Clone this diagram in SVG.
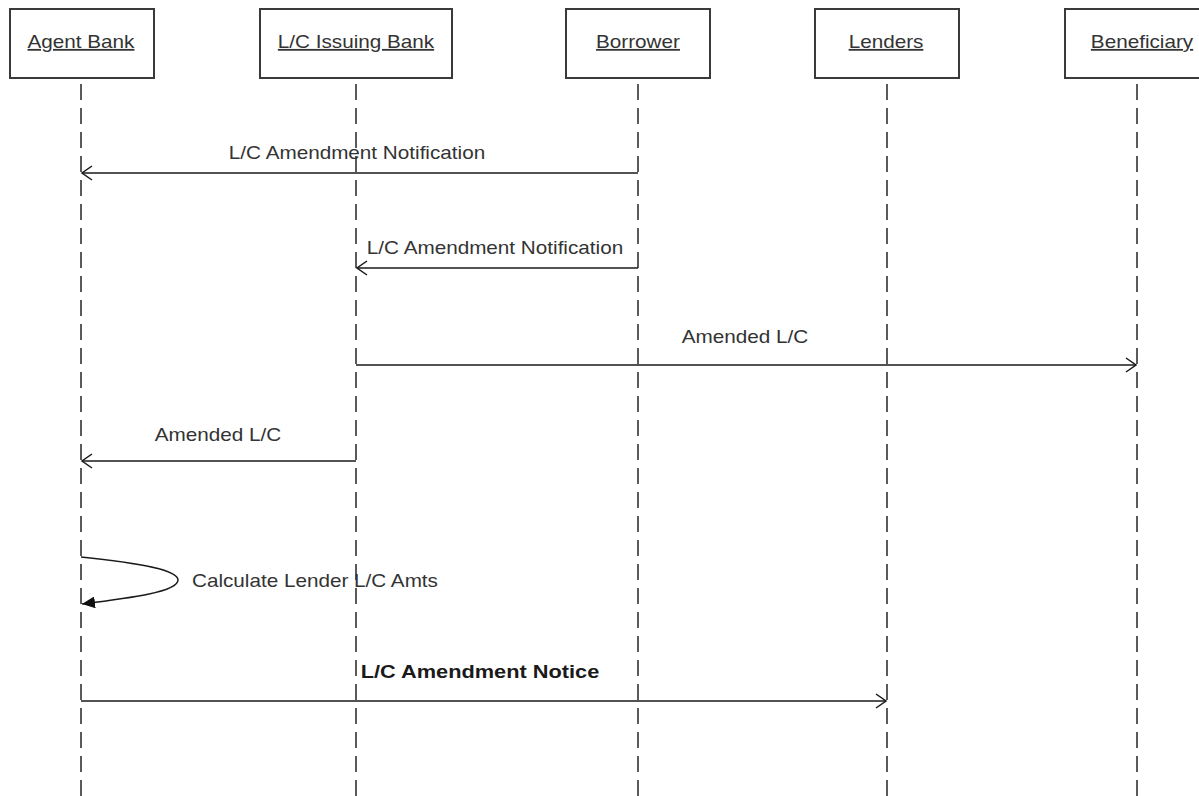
<svg xmlns="http://www.w3.org/2000/svg" width="1199" height="796" viewBox="0 0 1199 796">
  <style>
    .box { fill: #ffffff; stroke: #3a3a3a; stroke-width: 2; }
    .life { stroke: #5a5a5a; stroke-width: 2; stroke-dasharray: 16 8; fill: none; }
    .msg { stroke: #1a1a1a; stroke-width: 1.5; fill: none; }
    .name { font-family: "Liberation Sans", Arial, sans-serif; font-size: 18px; fill: #333333; text-anchor: middle; text-decoration: underline; }
    .lbl { font-family: "Liberation Sans", Arial, sans-serif; font-size: 18px; fill: #333333; text-anchor: middle; }
    .bold { font-weight: bold; fill: #1a1a1a; }
  </style>
  <defs>
    <marker id="open" viewBox="0 0 12 16" refX="11" refY="8" markerWidth="12" markerHeight="16" markerUnits="userSpaceOnUse" orient="auto">
      <path d="M1,1 L11,8 L1,15" fill="none" stroke="#1a1a1a" stroke-width="1.5"/>
    </marker>
    <marker id="solid" viewBox="0 0 14 12" refX="13" refY="6" markerWidth="14" markerHeight="12" markerUnits="userSpaceOnUse" orient="auto">
      <path d="M0,0 L13,6 L0,12 Z" fill="#111111"/>
    </marker>
  </defs>

  <rect width="1199" height="796" fill="#ffffff"/>

  <!-- participants with lifelines -->
  <g id="agent-bank">
    <line class="life" x1="81" y1="84" x2="81" y2="796"/>
    <rect class="box" x="10" y="9" width="144" height="69"/>
    <text class="name" transform="translate(81,48) scale(1.15,1)">Agent Bank</text>
  </g>
  <g id="lc-issuing-bank">
    <line class="life" x1="356" y1="84" x2="356" y2="796"/>
    <rect class="box" x="260" y="9" width="192" height="69"/>
    <text class="name" transform="translate(356,48) scale(1.15,1)">L/C Issuing Bank</text>
  </g>
  <g id="borrower">
    <line class="life" x1="638" y1="84" x2="638" y2="796"/>
    <rect class="box" x="566" y="9" width="144" height="69"/>
    <text class="name" transform="translate(638,48) scale(1.15,1)">Borrower</text>
  </g>
  <g id="lenders">
    <line class="life" x1="887" y1="84" x2="887" y2="796"/>
    <rect class="box" x="815" y="9" width="144" height="69"/>
    <text class="name" transform="translate(886,48) scale(1.15,1)">Lenders</text>
  </g>
  <g id="beneficiary">
    <line class="life" x1="1137" y1="84" x2="1137" y2="796"/>
    <rect class="box" x="1065" y="9" width="144" height="69"/>
    <text class="name" transform="translate(1142,48) scale(1.15,1)">Beneficiary</text>
  </g>

  <!-- messages -->
  <g id="connectors">
    <line class="msg" x1="638" y1="173" x2="82" y2="173" marker-end="url(#open)"/>
    <text class="lbl" transform="translate(357,159) scale(1.15,1)">L/C Amendment Notification</text>

    <line class="msg" x1="638" y1="268" x2="357" y2="268" marker-end="url(#open)"/>
    <text class="lbl" transform="translate(495,254) scale(1.15,1)">L/C Amendment Notification</text>

    <line class="msg" x1="356" y1="365" x2="1136" y2="365" marker-end="url(#open)"/>
    <text class="lbl" transform="translate(745,343) scale(1.15,1)">Amended L/C</text>

    <line class="msg" x1="356" y1="461" x2="82" y2="461" marker-end="url(#open)"/>
    <text class="lbl" transform="translate(218,441) scale(1.15,1)">Amended L/C</text>

    <path class="msg" d="M81,557 C140,563 178,570 178,580 C178,592 130,598 82,604" marker-end="url(#solid)"/>
    <text class="lbl" transform="translate(192,587) scale(1.15,1)" style="text-anchor:start">Calculate Lender L/C Amts</text>

    <line class="msg" x1="81" y1="701" x2="886" y2="701" marker-end="url(#open)"/>
    <text class="lbl bold" transform="translate(480,678) scale(1.21,1)">L/C Amendment Notice</text>
  </g>
</svg>
